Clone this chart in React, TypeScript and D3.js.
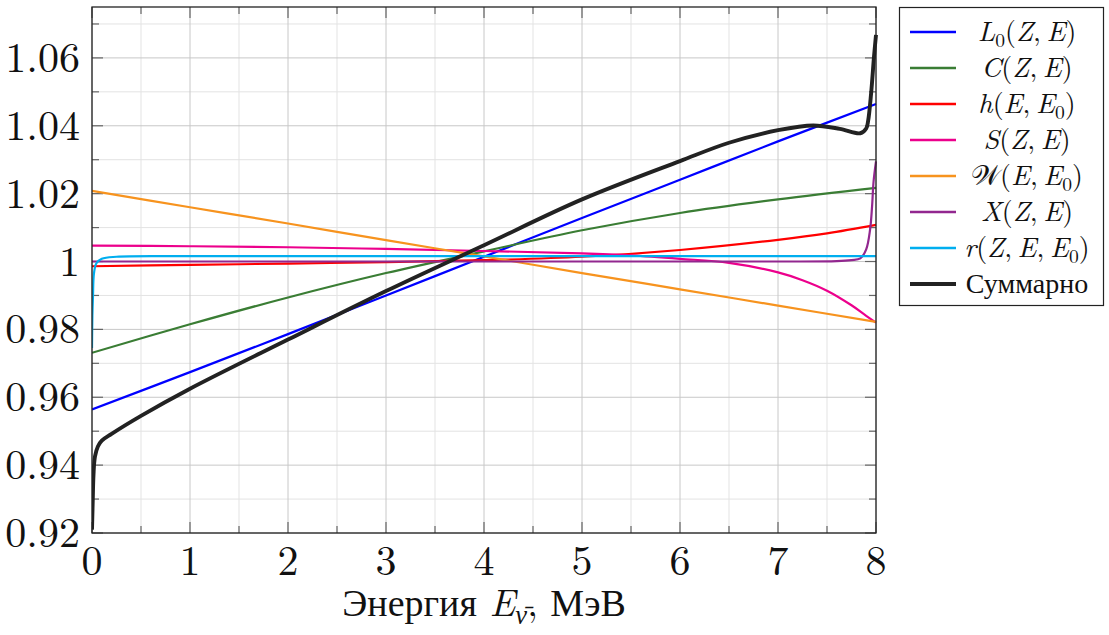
import React, { useEffect, useRef } from 'react';
import * as d3 from 'd3';

// axis ticks
const xMajor = [0, 1, 2, 3, 4, 5, 6, 7, 8];
const xMinor = [0.5, 1.5, 2.5, 3.5, 4.5, 5.5, 6.5, 7.5];
const yMajor = [0.92, 0.94, 0.96, 0.98, 1, 1.02, 1.04, 1.06];
const yMinor = [0.93, 0.95, 0.97, 0.99, 1.01, 1.03, 1.05, 1.07];

// series (energy in MeV, value)
const l0E = [0, 1, 2, 3, 4, 5, 6, 7, 8];
const l0V = [0.9564, 0.9674, 0.9786, 0.99, 1.0014, 1.0128, 1.0241, 1.0354, 1.0464];

const cE = [0, 1, 2, 3, 4, 5, 6, 7, 8];
const cV = [0.9731, 0.9815, 0.9894, 0.9966, 1.003, 1.0092, 1.0143, 1.0183, 1.0217];

const hE = [0, 1, 2, 3, 4, 5, 6, 7, 7.5, 8];
const hV = [0.9986, 0.999, 0.9994, 0.9998, 1.0004, 1.0014, 1.0034, 1.0064, 1.0083, 1.0108];

const sE = [0, 1, 2, 3, 4, 5, 5.5, 6, 6.5, 7, 7.25, 7.5, 7.75, 7.9, 8];
const sV = [1.0047, 1.0045, 1.0042, 1.0037, 1.0031, 1.0024, 1.0018, 1.0008, 0.9996, 0.9968, 0.9945, 0.9914, 0.9871, 0.984, 0.982];

const wE = [0, 1, 2, 3, 4, 5, 6, 7, 8];
const wV = [1.0208, 1.016, 1.0112, 1.0063, 1.0015, 0.9966, 0.9918, 0.987, 0.9822];

const xE = [0, 2, 4, 6, 7, 7.6, 7.75, 7.84, 7.9, 7.94, 7.96, 7.975, 8];
const xV = [1, 1, 1, 1, 1, 1.0001, 1.0004, 1.0009, 1.0036, 1.0095, 1.0163, 1.0235, 1.0295];

const rE = [0, 0.004, 0.01, 0.02, 0.045, 0.1, 0.25, 0.8, 2, 4, 6, 8];
const rV = [0.9745, 0.984, 0.9898, 0.9965, 0.9995, 1.0008, 1.0014, 1.0016, 1.0016, 1.0016, 1.0016, 1.0016];

const totE = [0, 0.008, 0.015, 0.03, 0.06, 0.1, 0.2, 0.5, 1, 2, 3, 4, 5, 6, 6.5, 7, 7.36, 7.63, 7.84, 7.9, 7.92, 7.95, 7.98, 8];
const totV = [0.921, 0.93, 0.937, 0.9425, 0.9455, 0.9472, 0.9492, 0.9545, 0.9625, 0.977, 0.9913, 1.0048, 1.0183, 1.0296, 1.035, 1.0387, 1.0401, 1.0391, 1.0378, 1.0392, 1.0415, 1.0495, 1.0605, 1.0668];

// legend labels: [text, kind] kind: n normal, i italic, s subscript
const C = ',\u2009';
const legendLabels: [string, string][][] = [
  [['L', 'i'], ['0', 's'], ['(', 'n'], ['Z', 'i'], [C, 'n'], ['E', 'i'], [')', 'n']],
  [['C', 'i'], ['(', 'n'], ['Z', 'i'], [C, 'n'], ['E', 'i'], [')', 'n']],
  [['h', 'i'], ['(', 'n'], ['E', 'i'], [C, 'n'], ['E', 'i'], ['0', 's'], [')', 'n']],
  [['S', 'i'], ['(', 'n'], ['Z', 'i'], [C, 'n'], ['E', 'i'], [')', 'n']],
  [['\u{1D4B2}', 'n'], ['(', 'n'], ['E', 'i'], [C, 'n'], ['E', 'i'], ['0', 's'], [')', 'n']],
  [['X', 'i'], ['(', 'n'], ['Z', 'i'], [C, 'n'], ['E', 'i'], [')', 'n']],
  [['r', 'i'], ['(', 'n'], ['Z', 'i'], [C, 'n'], ['E', 'i'], [C, 'n'], ['E', 'i'], ['0', 's'], [')', 'n']],
  [['Суммарно', 'n']],
];
const xLabel: [string, string][] = [['Энергия ', 'n'], ['E', 'i'], ['\u03BD\u0304', 'si'], [', МэВ', 'n']];

const colors = ['#0000ff', '#3a7d34', '#ff0000', '#ec008c', '#f7931e', '#92278f', '#00aeef', '#222222'];
const widths = [2.2, 2.2, 2.2, 2.2, 2.2, 2.2, 2.2, 3.9];

const W = 1109, H = 635;
const left = 92, right = 876, top = 7, bottom = 533;
const FONT = '"Latin Modern Roman", "Liberation Serif", serif';

function addRich(text: any, parts: [string, string][], size: number) {
  let shifted = false;
  parts.forEach(([t, k]) => {
    const ts = text.append('tspan').text(t);
    if (k.includes('i')) ts.style('font-style', 'italic');
    if (k.includes('s')) {
      ts.style('font-size', size * 0.7 + 'px').attr('dy', size * 0.2);
      shifted = true;
    } else if (shifted) {
      ts.attr('dy', -size * 0.2);
      shifted = false;
    }
  });
}

export default function App() {
  const ref = useRef<SVGSVGElement>(null);

  useEffect(() => {
    const svg = d3.select(ref.current);
    svg.selectAll('*').remove();

    const x = d3.scaleLinear().domain([0, 8]).range([left, right]);
    const y = d3.scaleLinear().domain([0.92, 1.075]).range([bottom, top]);

    const grid = svg.append('g');
    xMinor.forEach(v => grid.append('line').attr('x1', x(v)).attr('x2', x(v)).attr('y1', top).attr('y2', bottom).attr('stroke', '#e3e3e3').attr('stroke-width', 1));
    yMinor.forEach(v => grid.append('line').attr('x1', left).attr('x2', right).attr('y1', y(v)).attr('y2', y(v)).attr('stroke', '#e3e3e3').attr('stroke-width', 1));
    xMajor.forEach(v => grid.append('line').attr('x1', x(v)).attr('x2', x(v)).attr('y1', top).attr('y2', bottom).attr('stroke', '#c8c8c8').attr('stroke-width', 1));
    yMajor.forEach(v => grid.append('line').attr('x1', left).attr('x2', right).attr('y1', y(v)).attr('y2', y(v)).attr('stroke', '#c8c8c8').attr('stroke-width', 1));

    // ticks inward on all sides
    const tk = svg.append('g').attr('stroke', '#666').attr('stroke-width', 1.2);
    xMajor.forEach(v => {
      tk.append('line').attr('x1', x(v)).attr('x2', x(v)).attr('y1', bottom).attr('y2', bottom - 11);
      tk.append('line').attr('x1', x(v)).attr('x2', x(v)).attr('y1', top).attr('y2', top + 11);
    });
    xMinor.forEach(v => {
      tk.append('line').attr('x1', x(v)).attr('x2', x(v)).attr('y1', bottom).attr('y2', bottom - 7);
      tk.append('line').attr('x1', x(v)).attr('x2', x(v)).attr('y1', top).attr('y2', top + 7);
    });
    yMajor.forEach(v => {
      tk.append('line').attr('x1', left).attr('x2', left + 11).attr('y1', y(v)).attr('y2', y(v));
      tk.append('line').attr('x1', right).attr('x2', right - 11).attr('y1', y(v)).attr('y2', y(v));
    });
    yMinor.forEach(v => {
      tk.append('line').attr('x1', left).attr('x2', left + 7).attr('y1', y(v)).attr('y2', y(v));
      tk.append('line').attr('x1', right).attr('x2', right - 7).attr('y1', y(v)).attr('y2', y(v));
    });

    svg.append('clipPath').attr('id', 'plotclip').append('rect')
      .attr('x', left).attr('y', top - 2).attr('width', right - left + 2).attr('height', bottom - top + 2);

    const lineGen = d3.line<[number, number]>()
      .x(d => x(d[0]))
      .y(d => y(d[1]))
      .curve(d3.curveCatmullRom.alpha(0.5));

    const data: [number[], number[]][] = [[l0E, l0V], [cE, cV], [hE, hV], [sE, sV], [wE, wV], [xE, xV], [rE, rV], [totE, totV]];
    const plot = svg.append('g').attr('clip-path', 'url(#plotclip)');
    data.forEach(([es, vs], i) => {
      const pts = es.map((e, j) => [e, vs[j]] as [number, number]);
      plot.append('path').datum(pts).attr('d', lineGen)
        .attr('fill', 'none').attr('stroke', colors[i]).attr('stroke-width', widths[i])
        .attr('stroke-linejoin', 'round');
    });

    // frame
    svg.append('rect').attr('x', left).attr('y', top).attr('width', right - left).attr('height', bottom - top)
      .attr('fill', 'none').attr('stroke', '#222').attr('stroke-width', 1.3);

    // tick labels
    xMajor.forEach(v => svg.append('text').attr('x', x(v)).attr('y', 575).attr('text-anchor', 'middle')
      .style('font-family', FONT).style('font-size', '42px').attr('fill', '#111').text(String(v)));
    yMajor.forEach(v => svg.append('text').attr('x', 80).attr('y', y(v) + 14).attr('text-anchor', 'end')
      .style('font-family', FONT).style('font-size', '42px').attr('fill', '#111').text(String(+v.toFixed(2))));

    // axis label
    const xl = svg.append('text').attr('x', 484).attr('y', 616).attr('text-anchor', 'middle')
      .style('font-family', FONT).style('font-size', '38px').attr('fill', '#111');
    addRich(xl, xLabel, 38);

    // legend
    const lg = svg.append('g');
    lg.append('rect').attr('x', 899.5).attr('y', 7.5).attr('width', 204).attr('height', 298)
      .attr('fill', '#fff').attr('stroke', '#222').attr('stroke-width', 1.2);
    legendLabels.forEach((lab, i) => {
      const ly = 32 + i * 36;
      lg.append('line').attr('x1', 910).attr('x2', 956).attr('y1', ly).attr('y2', ly)
        .attr('stroke', colors[i]).attr('stroke-width', i === 7 ? 4 : 2.5);
      const t = lg.append('text').attr('x', 1027).attr('y', ly + 9).attr('text-anchor', 'middle')
        .style('font-family', FONT).style('font-size', '28px').attr('fill', '#111');
      addRich(t, lab, 28);
    });
  }, []);

  return (
    <div style={{ position: 'absolute', left: 0, top: 0 }}>
      <svg ref={ref} width={W} height={H} style={{ display: 'block', background: '#fff', fontFamily: '"Latin Modern Roman"' }} />
    </div>
  );
}
